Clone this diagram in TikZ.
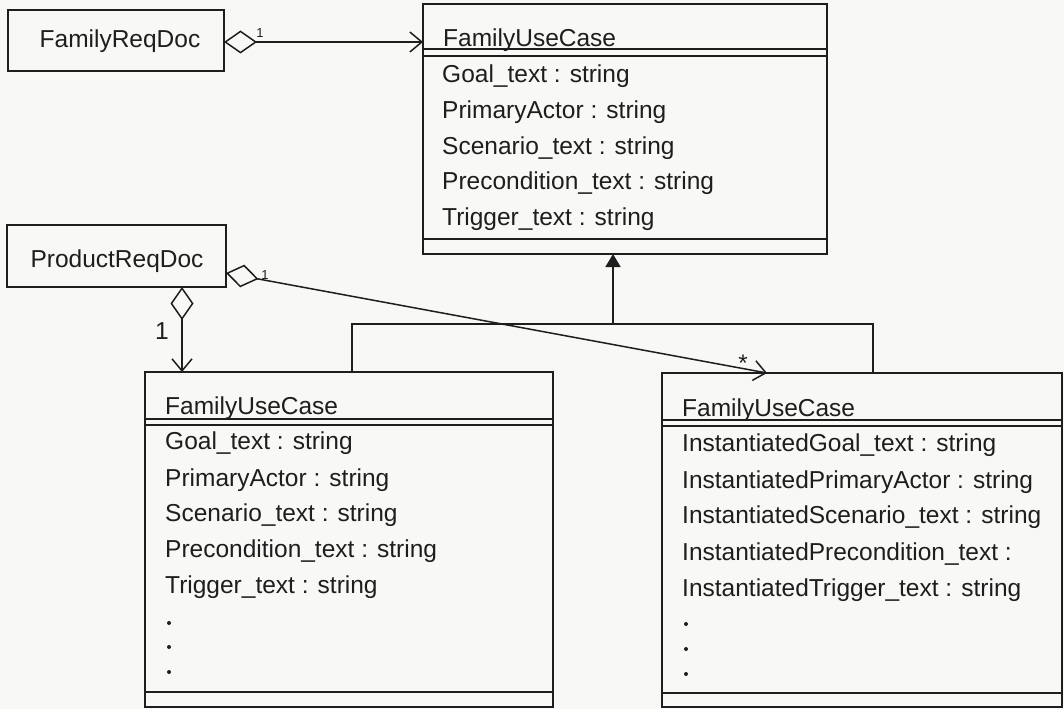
\documentclass[tikz,border=0pt]{standalone}
\usepackage{fontspec}
\setmainfont{Liberation Sans}
\usetikzlibrary{arrows.meta}
\definecolor{ink}{HTML}{1E1E1E}
\definecolor{paper}{HTML}{F8F8F6}

\begin{document}
\begin{tikzpicture}[x=1pt,y=-1pt,
  box/.style={draw=ink, line width=1.8pt, inner sep=0pt, outer sep=0pt, anchor=north west},
  rule/.style={draw=ink, line width=1.8pt},
  lbl/.style={anchor=base west, inner sep=0pt, text=ink, font=\fontsize{24.5}{29}\selectfont},
  ctr/.style={inner sep=0pt, text=ink, font=\fontsize{24.5}{29}\selectfont},
  mult/.style={inner sep=0pt, text=ink, font=\fontsize{13}{15}\selectfont},
  assoc/.style={draw=ink, line width=1.5pt,
    {Diamond[open,length=33pt,width=23pt]}-{Straight Barb[length=12pt,width=20pt]}},
  gen/.style={draw=ink, line width=1.8pt},
  dotmark/.style={circle, fill=ink, inner sep=0pt, minimum size=4pt}
]
\useasboundingbox[fill=paper] (0,0) rectangle (1064,709);

% documents
\node[box, minimum width=216, minimum height=61] (freq) at (8,10) {};
\node[ctr] (freqt) at (120,41) {FamilyReqDoc};
\node[box, minimum width=219, minimum height=62] (preq) at (7,225) {};
\node[ctr] (preqt) at (117,261) {ProductReqDoc};

% generic use case class
\node[box, minimum width=404, minimum height=250] (fuc) at (423,4) {};
\draw[rule] (fuc.west |- 0,49) -- (fuc.east |- 0,49);
\draw[rule] (fuc.west |- 0,56) -- (fuc.east |- 0,56);
\draw[rule] (fuc.west |- 0,239) -- (fuc.east |- 0,239);
\node[lbl] (fucn) at (443,47) {FamilyUseCase};
\node[lbl] (fuca1) at (442,82) {Goal\_text : string};
\node[lbl] (fuca2) at (442,118) {PrimaryActor : string};
\node[lbl] (fuca3) at (442,154) {Scenario\_text : string};
\node[lbl] (fuca4) at (442,189) {Precondition\_text : string};
\node[lbl] (fuca5) at (442,225) {Trigger\_text : string};

% family use case in product
\node[box, minimum width=408, minimum height=335] (fam) at (145,372) {};
\draw[rule] (fam.west |- 0,419) -- (fam.east |- 0,419);
\draw[rule] (fam.west |- 0,425) -- (fam.east |- 0,425);
\draw[rule] (fam.west |- 0,692) -- (fam.east |- 0,692);
\node[lbl] (famn) at (165,414) {FamilyUseCase};
\node[lbl] (fama1) at (165,449) {Goal\_text : string};
\node[lbl] (fama2) at (165,486) {PrimaryActor : string};
\node[lbl] (fama3) at (165,521) {Scenario\_text : string};
\node[lbl] (fama4) at (165,557) {Precondition\_text : string};
\node[lbl] (fama5) at (165,593) {Trigger\_text : string};
\node[dotmark] (famd1) at (169,623) {};
\node[dotmark] (famd2) at (169,647) {};
\node[dotmark] (famd3) at (169,672) {};

% instantiated use case
\node[box, minimum width=400, minimum height=334] (inst) at (662,373) {};
\draw[rule] (inst.west |- 0,420) -- (inst.east |- 0,420);
\draw[rule] (inst.west |- 0,426) -- (inst.east |- 0,426);
\draw[rule] (inst.west |- 0,693) -- (inst.east |- 0,693);
\node[lbl] (instn) at (682,416) {FamilyUseCase};
\node[lbl] (insta1) at (682,451) {InstantiatedGoal\_text : string};
\node[lbl] (insta2) at (682,488) {InstantiatedPrimaryActor : string};
\node[lbl] (insta3) at (682,523) {InstantiatedScenario\_text : string};
\node[lbl] (insta4) at (682,560) {InstantiatedPrecondition\_text :};
\node[lbl] (insta5) at (682,596) {InstantiatedTrigger\_text : string};
\node[dotmark] (instd1) at (686,624) {};
\node[dotmark] (instd2) at (686,649) {};
\node[dotmark] (instd3) at (686,674) {};

% aggregations
\draw[assoc] (freq.east |- 0,42) -- (fuc.west |- 0,42);
\draw[assoc] (preq.east |- 0,273) -- ([xshift=105pt]inst.north west);
\draw[assoc] (preq.south -| 182,0) -- (fam.north -| 182,0);
\node[mult] (m1) at (260,33) {1};
\node[mult] (m2) at (265,275) {1};
\node[mult, anchor=base, font=\fontsize{24}{26}\selectfont] (m3) at (743,371) {*};
\node[ctr] (m4) at (162,331) {1};

% generalization
\coordinate (gj) at (613,324);
\draw[gen] (fam.north -| 352,0) |- (873,324) -- (inst.north -| 873,0);
\draw[gen, -{Triangle[length=13pt,width=15pt]}] (gj) -- (fuc.south -| gj);
\end{tikzpicture}
\end{document}
